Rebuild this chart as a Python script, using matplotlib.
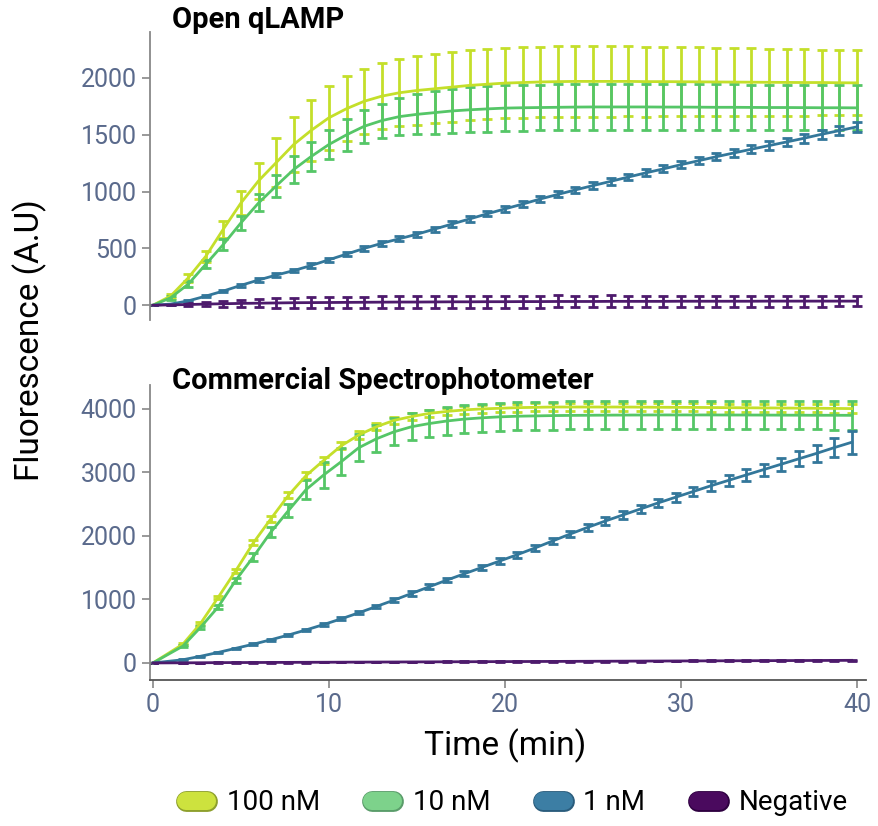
import numpy as np
import matplotlib
matplotlib.use("Agg")
import matplotlib.pyplot as plt
from matplotlib.lines import Line2D
import matplotlib.patheffects as pe

plt.rcParams['font.family'] = ['Roboto', 'DejaVu Sans']

# time points (min)
t_top = np.arange(0, 41)
t_bot = np.r_[0, np.arange(1.7, 40, 1.0)]

labels = ['100 nM', '10 nM', '1 nM', 'Negative']
line_colors = ['#c4df2a', '#55c667', '#33779a', '#4d1a6c']
fill_colors = ['#cde23e', '#7dd28b', '#3c7ea4', '#4a0a5e']
edge_colors = ['#8d9f2c', '#5a9c6a', '#2a5c7c', '#2e0040']

# Open qLAMP
yel_top = [0, 80, 240, 430, 670, 900, 1095, 1255, 1415, 1540, 1650,
           1730, 1795, 1840, 1870, 1890, 1905, 1920, 1935, 1945, 1955,
           1960, 1965, 1968, 1970, 1970, 1970, 1970, 1968, 1968, 1967,
           1966, 1965, 1964, 1963, 1962, 1961, 1960, 1960, 1958, 1957]
yel_top_err = [0, 20, 35, 50, 75, 105, 160, 215, 245, 270, 280,
               285, 285, 290, 295, 300, 305, 305, 308, 308, 310,
               310, 310, 310, 310, 310, 310, 308, 308, 305, 305,
               303, 300, 300, 298, 295, 295, 292, 290, 288, 285]
grn_top = [0, 65, 185, 360, 535, 725, 900, 1050, 1195, 1310, 1415,
           1500, 1575, 1625, 1660, 1680, 1695, 1710, 1720, 1728, 1735,
           1738, 1740, 1742, 1744, 1745, 1745, 1745, 1745, 1744, 1744,
           1743, 1742, 1742, 1741, 1740, 1740, 1739, 1738, 1738, 1737]
grn_top_err = [0, 15, 25, 35, 45, 60, 75, 95, 115, 125, 130,
               140, 145, 150, 160, 175, 190, 195, 198, 200, 200,
               201, 201, 202, 202, 202, 203, 203, 203, 203, 202,
               202, 202, 201, 201, 201, 200, 200, 200, 199, 199]
blu_top = [0, 10, 38, 80, 125, 175, 222, 265, 305, 350, 400,
           450, 500, 545, 585, 625, 670, 715, 760, 805, 848,
           890, 935, 975, 1015, 1053, 1090, 1128, 1165, 1200, 1237,
           1272, 1307, 1340, 1373, 1405, 1437, 1470, 1505, 1537, 1570]
blu_top_err = [0, 5, 8, 10, 12, 14, 15, 16, 17, 18, 18,
               19, 20, 20, 21, 22, 22, 23, 24, 24, 25,
               25, 26, 26, 27, 28, 28, 29, 30, 30, 31,
               32, 33, 34, 35, 36, 37, 38, 40, 42, 45]
neg_top = [0, 3, 6, 10, 13, 16, 18, 20, 22, 23, 24,
           25, 26, 27, 28, 28, 29, 30, 30, 31, 31,
           32, 32, 33, 33, 33, 34, 34, 34, 34, 35,
           35, 35, 35, 35, 36, 36, 36, 36, 36, 36]
neg_top_err = [0, 5, 10, 18, 25, 32, 38, 42, 45, 47, 48,
               49, 50, 50, 51, 51, 52, 52, 52, 53, 53,
               53, 53, 53, 52, 52, 52, 51, 51, 51, 50,
               50, 50, 49, 49, 49, 48, 48, 48, 47, 47]

# Commercial Spectrophotometer
yel_bot = [0, 295, 620, 1030, 1450, 1890, 2270, 2640, 2950, 3190,
           3420, 3590, 3720, 3820, 3880, 3930, 3960, 3985, 4000, 4010,
           4020, 4025, 4030, 4030, 4030, 4030, 4030, 4028, 4026, 4025,
           4024, 4022, 4020, 4018, 4016, 4014, 4012, 4010, 4008, 4005]
yel_bot_err = [0, 20, 25, 30, 35, 40, 45, 50, 52, 54,
               55, 56, 57, 58, 58, 59, 60, 60, 60, 61,
               61, 62, 62, 62, 63, 63, 63, 63, 64, 64,
               64, 64, 64, 65, 65, 65, 65, 65, 65, 65]
grn_bot = [0, 265, 560, 880, 1300, 1670, 2060, 2400, 2730, 2960,
           3170, 3390, 3530, 3640, 3720, 3770, 3810, 3840, 3860, 3875,
           3885, 3890, 3895, 3898, 3900, 3902, 3903, 3904, 3905, 3905,
           3905, 3905, 3904, 3904, 3903, 3902, 3901, 3900, 3900, 3899]
grn_bot_err = [0, 15, 25, 35, 45, 60, 80, 105, 150, 200,
               210, 212, 214, 215, 216, 217, 218, 218, 219, 219,
               220, 220, 220, 221, 221, 221, 222, 222, 222, 222,
               223, 223, 223, 223, 224, 224, 224, 224, 225, 225]
blu_bot = [0, 50, 105, 165, 230, 295, 365, 440, 520, 605,
           695, 790, 890, 990, 1095, 1200, 1305, 1405, 1505, 1605,
           1705, 1810, 1920, 2030, 2135, 2235, 2330, 2425, 2520, 2610,
           2700, 2790, 2875, 2960, 3045, 3130, 3215, 3300, 3390, 3475]
blu_bot_err = [0, 8, 10, 12, 13, 15, 18, 20, 21, 24,
               26, 27, 30, 32, 33, 36, 38, 40, 41, 44,
               46, 47, 50, 52, 55, 57, 61, 64, 66, 70,
               74, 77, 82, 88, 95, 104, 115, 130, 150, 180]
neg_bot = [0, 2, 3, 5, 6, 7, 8, 9, 10, 11,
           12, 13, 14, 15, 16, 17, 18, 19, 20, 21,
           22, 23, 24, 25, 26, 27, 28, 29, 30, 31,
           32, 33, 34, 35, 36, 37, 38, 39, 40, 41]
neg_bot_err = [0, 2, 2, 3, 3, 3, 4, 4, 4, 4,
               5, 5, 5, 5, 5, 5, 6, 6, 6, 6,
               6, 6, 6, 6, 6, 7, 7, 7, 7, 7,
               7, 7, 7, 7, 8, 8, 8, 8, 8, 8]

tick_color = '#5a6a8c'
spine_color = '#888888'

fig = plt.figure(figsize=(8.79, 8.26), dpi=100)
ax1 = fig.add_axes([0.1706, 0.6126, 0.8144, 0.3487])
ax2 = fig.add_axes([0.1706, 0.1768, 0.8144, 0.3572])

top_series = [(yel_top, yel_top_err), (grn_top, grn_top_err),
              (blu_top, blu_top_err), (neg_top, neg_top_err)]
bot_series = [(yel_bot, yel_bot_err), (grn_bot, grn_bot_err),
              (blu_bot, blu_bot_err), (neg_bot, neg_bot_err)]

for i, (y, e) in enumerate(top_series):
    ax1.errorbar(t_top, y, yerr=e, color=line_colors[i], lw=2,
                 elinewidth=2, capsize=3.5, capthick=2)
for i, (y, e) in enumerate(bot_series):
    ax2.errorbar(t_bot, y, yerr=e, color=line_colors[i], lw=2,
                 elinewidth=2, capsize=3.5, capthick=2)

ax1.set_xlim(-0.17, 40.5)
ax2.set_xlim(-0.17, 40.5)
ax1.set_ylim(-130, 2405)
ax2.set_ylim(-268, 4378)
ax1.set_yticks([0, 500, 1000, 1500, 2000])
ax2.set_yticks([0, 1000, 2000, 3000, 4000])
ax2.set_xticks([0, 10, 20, 30, 40])

for ax in (ax1, ax2):
    ax.spines['top'].set_visible(False)
    ax.spines['right'].set_visible(False)
    ax.spines['left'].set_color(spine_color)
    ax.spines['left'].set_linewidth(1.3)
    ax.tick_params(axis='both', colors=spine_color, labelcolor=tick_color,
                   labelsize=18, length=6, width=1.2)
ax1.spines['bottom'].set_visible(False)
ax1.set_xticks([])
ax2.spines['bottom'].set_color('#555555')
ax2.spines['bottom'].set_linewidth(1.3)

fig.text(172 / 879, 1 - 20 / 826, 'Open qLAMP', fontsize=21,
         fontweight='bold', va='center', ha='left')
fig.text(172 / 879, 1 - 381 / 826, 'Commercial Spectrophotometer',
         fontsize=21, fontweight='bold', va='center', ha='left')
fig.text(30 / 879, 1 - 340 / 826, 'Fluorescence (A.U)', fontsize=24,
         rotation=90, va='center', ha='center')
fig.text(505 / 879, 1 - 746 / 826, 'Time (min)', fontsize=24,
         va='center', ha='center')

handles = []
for i in range(4):
    h = Line2D([0], [0], color=fill_colors[i], lw=13, solid_capstyle='round',
               path_effects=[pe.Stroke(linewidth=15, foreground=edge_colors[i]),
                             pe.Normal()])
    handles.append(h)
fig.legend(handles, labels, loc='center', bbox_to_anchor=(0.588, 1 - 803 / 826),
           ncol=4, frameon=False, fontsize=20, handlelength=0.75,
           handletextpad=0.7, columnspacing=1.9)

fig.savefig('out.png', dpi=100)
